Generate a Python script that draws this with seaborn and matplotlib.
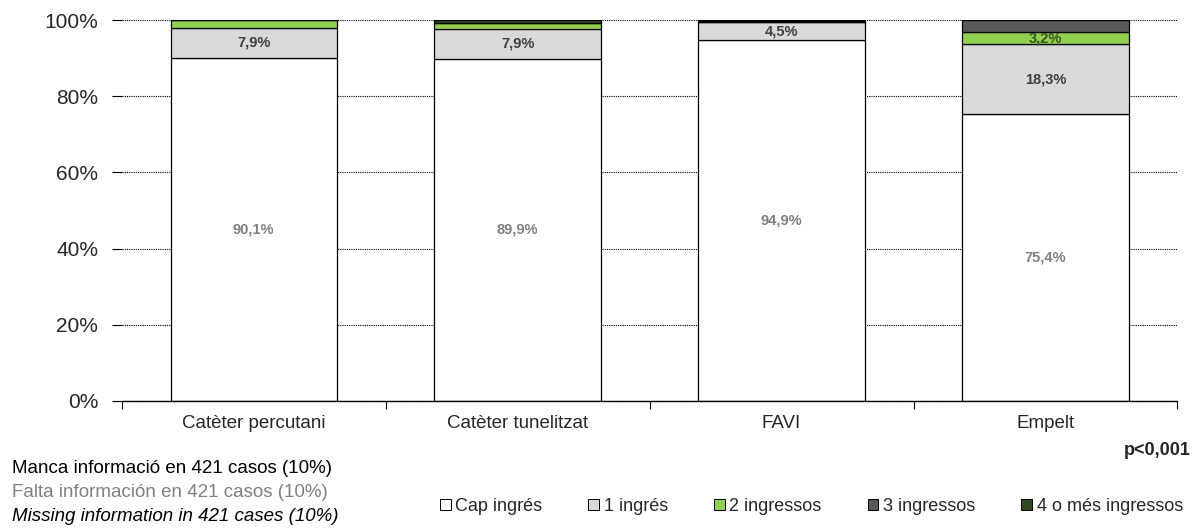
import matplotlib
matplotlib.use("Agg")
import matplotlib.pyplot as plt
from matplotlib.patches import Patch
from matplotlib.ticker import FixedLocator, PercentFormatter
import seaborn as sns
import numpy as np

categories = ["Catèter percutani", "Catèter tunelitzat", "FAVI", "Empelt"]
series_names = ["Cap ingrés", "1 ingrés", "2 ingressos", "3 ingressos", "4 o més ingressos"]
cap_ingres = [90.1, 89.9, 94.9, 75.4]
un_ingres = [7.9, 7.9, 4.5, 18.3]
dos_ingressos = [2.0, 1.5, 0.0, 3.2]
tres_ingressos = [0.0, 0.0, 0.3, 3.1]
quatre_mes = [0.0, 0.7, 0.3, 0.0]

series_values = [cap_ingres, un_ingres, dos_ingressos, tres_ingressos, quatre_mes]
colors = ["#FFFFFF", "#D9D9D9", "#92D050", "#595959", "#2E4A1E"]
label_colors = ["#808080", "#404040", "#375623", "#404040", "#404040"]

sns.set_style("white")
plt.rcParams["font.family"] = ["Liberation Sans", "DejaVu Sans"]

fig = plt.figure(figsize=(11.93, 5.31), dpi=100)
ax = fig.add_axes([0.102, 0.245, 0.885, 0.717])

bottom = np.zeros(len(categories))
for name, vals, col, lcol in zip(series_names, series_values, colors, label_colors):
    sns.barplot(x=categories, y=vals, bottom=bottom.copy(), color=col,
                edgecolor="black", linewidth=0.9, width=0.63, ax=ax,
                saturation=1)
    for i, v in enumerate(vals):
        if v >= 3.2:
            ax.text(i, bottom[i] + v / 2, f"{v:.1f}%".replace(".", ","),
                    ha="center", va="center", fontsize=10.5, fontweight="bold",
                    color=lcol)
    bottom += np.array(vals)

ax.set_ylim(0, 100)
ax.set_xlim(-0.5, 3.5)
ax.yaxis.set_major_locator(FixedLocator([0, 20, 40, 60, 80, 100]))
ax.yaxis.set_major_formatter(PercentFormatter(decimals=0))
ax.grid(axis="y", color="black", linestyle=(0, (1, 1)), linewidth=0.8)
ax.set_axisbelow(True)
for s in ["left", "right", "top"]:
    ax.spines[s].set_visible(False)
ax.spines["bottom"].set_color("black")
ax.spines["bottom"].set_linewidth(1.0)
ax.tick_params(axis="y", left=True, length=7, width=0.8, color="black",
               labelsize=15, pad=10)
ax.tick_params(axis="x", which="major", length=0, labelsize=13.5, pad=10)
ax.xaxis.set_minor_locator(FixedLocator([-0.5, 0.5, 1.5, 2.5, 3.5]))
ax.tick_params(axis="x", which="minor", bottom=True, length=6, width=0.8,
               color="black", direction="out")
ax.set_xlabel("")
ax.set_ylabel("")

handles = [Patch(facecolor=c, edgecolor="black", linewidth=0.7) for c in colors]
fig.legend(handles, series_names, loc="center", bbox_to_anchor=(0.680, 0.046),
           ncol=5, frameon=False, fontsize=13, handlelength=0.6,
           handleheight=0.6, handletextpad=0.25, columnspacing=2.55)

fig.text(0.998, 0.152, "p<0,001", ha="right", va="center", fontsize=13,
         fontweight="bold")
fig.text(0.01, 0.118, "Manca informació en 421 casos (10%)", ha="left",
         va="center", fontsize=13.5, color="black")
fig.text(0.01, 0.073, "Falta información en 421 casos (10%)", ha="left",
         va="center", fontsize=13.5, color="#808080")
fig.text(0.01, 0.028, "Missing information in 421 cases (10%)", ha="left",
         va="center", fontsize=13.5, color="black", style="italic")

fig.savefig("out.png", dpi=100)
plt.close(fig)
